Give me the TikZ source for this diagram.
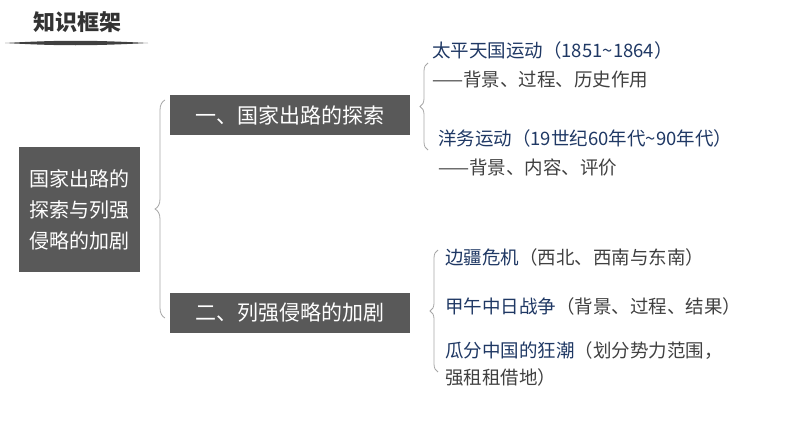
\documentclass[tikz,border=0pt]{standalone}
\usepackage{fontspec}
\setmainfont{Noto Sans CJK SC}
\usetikzlibrary{decorations.pathreplacing}
\definecolor{boxgray}{HTML}{595959}
\definecolor{navy}{HTML}{1F3864}
\definecolor{txtgray}{HTML}{404040}
\begin{document}
\begin{tikzpicture}[x=1pt, y=-1pt,
  topic/.style={fill=boxgray, text=white, font=\fontsize{21}{24}\selectfont, minimum width=240pt, minimum height=40pt, inner sep=0pt},
  item/.style={anchor=west, inner sep=0pt, font=\fontsize{18.5}{27}\selectfont, text=navy, align=left},
  note/.style={anchor=west, inner sep=0pt, font=\fontsize{18.5}{27}\selectfont, text=txtgray, align=left},
  bracket/.style={draw=gray!70, line width=0.8pt, decorate, decoration={brace, amplitude=8pt}},
]
\useasboundingbox (0,0) rectangle (794,447);
\node[font=\fontsize{22}{24}\selectfont\bfseries, text=black!80] (title) at (77,22) {知识框架};
\fill[black!75] (5,43) .. controls (60,40) and (90,40) .. (148,43) .. controls (90,46) and (60,46) .. (5,43) -- cycle;
% main box
\node[fill=boxgray, text=white, font=\fontsize{20}{31}\selectfont, align=center, minimum width=121pt, minimum height=125pt, inner sep=0pt] (main) at (79.5,209.5) {国家出路的\\探索与列强\\侵略的加剧};
\node[topic] (part1) at (290,115) {一、国家出路的探索};
\node[topic] (part2) at (290,313) {二、列强侵略的加剧};
% braces
\coordinate (b1a) at (165,318);
\coordinate (b1b) at (165,100);
\draw[bracket, decoration={amplitude=10pt}] (b1a) -- (b1b);
\coordinate (b2a) at (428,150);
\coordinate (b2b) at (428,63);
\draw[bracket] (b2a) -- (b2b);
\coordinate (b3a) at (438,372);
\coordinate (b3b) at (438,250);
\draw[bracket] (b3a) -- (b3b);
% items
\node[item] (taiping) at (432,50) {太平天国运动（1851\textasciitilde1864）};
\node[note] (taipingnote) at (432,80) {——背景、过程、历史作用};
\node[item] (yangwu) at (438,138) {洋务运动（19世纪60年代\textasciitilde90年代）};
\node[note] (yangwunote) at (438,167) {——背景、内容、评价};
\node[item] (bianjiang) at (445,257) {边疆危机\textcolor{txtgray}{（西北、西南与东南）}};
\node[item] (jiawu) at (445,306) {甲午中日战争\textcolor{txtgray}{（背景、过程、结果）}};
\node[item, anchor=north west] (guafen) at (445,341) {瓜分中国的狂潮\textcolor{txtgray}{（划分势力范围，}\\\textcolor{txtgray}{强租租借地）}};
\end{tikzpicture}
\end{document}
